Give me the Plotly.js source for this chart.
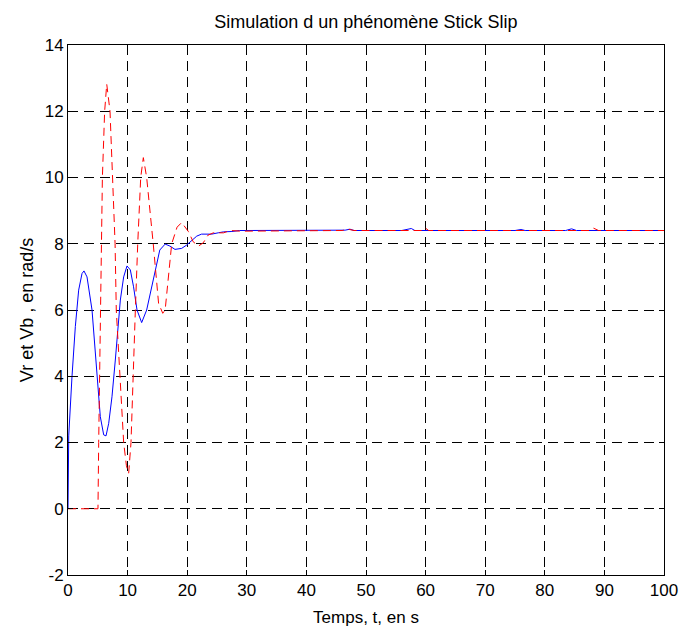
<!DOCTYPE html>
<html>
<head>
<meta charset="utf-8">
<script src="https://cdn.plot.ly/plotly-3.0.1.min.js"></script>
<style>html,body{margin:0;padding:0;background:#fff;}#chart{width:680px;height:630px;}</style>
</head>
<body>
<div id="chart"></div>
<script>
const blueT = [0, 0.05, 0.12, 0.67, 1.23, 1.79, 2.35, 2.68, 3.19, 4.03, 4.58, 4.86, 5.03, 5.42, 5.99, 6.38, 6.83, 7.38, 7.94, 8.5, 8.78, 9.34, 9.9, 10.46, 11.0, 11.58, 12.36, 13.2, 14.6, 15.4, 16.3, 17.1, 17.95, 19.07, 19.9, 20.75, 21.6, 22.4, 24.1, 25.2, 26.1, 27.5, 28.8, 30, 45, 46.5, 47.3, 48, 56, 57, 57.6, 58.2, 75, 76, 76.7, 83.5, 84.5, 85.3, 100];
const blueV = [0, 1.2, 2.2, 3.99, 5.5, 6.6, 7.1, 7.18, 7.0, 6.0, 4.79, 4.2, 3.58, 2.78, 2.23, 2.2, 2.58, 3.38, 4.49, 5.7, 6.3, 7.0, 7.33, 7.21, 6.7, 6.0, 5.62, 6.0, 7.1, 7.81, 7.99, 7.93, 7.83, 7.86, 7.96, 8.11, 8.23, 8.29, 8.29, 8.33, 8.36, 8.37, 8.4, 8.4, 8.4, 8.41, 8.44, 8.4, 8.4, 8.43, 8.46, 8.4, 8.4, 8.43, 8.4, 8.4, 8.45, 8.4, 8.4];
const redT = [0, 5.03, 5.15, 5.3, 5.45, 5.54, 5.77, 6.15, 6.5, 7.05, 7.5, 7.9, 8.1, 8.67, 9.34, 9.8, 10.18, 10.57, 10.9, 11.3, 11.7, 12.2, 12.64, 13.2, 14.3, 15.2, 15.9, 16.3, 17.4, 18.3, 19.07, 20.2, 21.0, 21.9, 22.7, 23.5, 24.4, 26.1, 27.2, 29, 46, 47, 48, 59.5, 60, 60.5, 87.5, 88.2, 89, 100];
const redV = [0, 0, 2, 4, 6, 8, 10, 12, 12.82, 12, 10, 8, 6, 4, 2, 1.3, 1.07, 2, 4, 6, 8, 10, 10.6, 10, 8, 6.2, 5.9, 6, 8, 8.5, 8.64, 8.37, 8.06, 7.93, 8.03, 8.26, 8.33, 8.33, 8.4, 8.38, 8.4, 8.44, 8.4, 8.4, 8.47, 8.4, 8.4, 8.47, 8.4, 8.4];
const xTicks = [0, 10, 20, 30, 40, 50, 60, 70, 80, 90, 100];
const yTicks = [-2, 0, 2, 4, 6, 8, 10, 12, 14];

const FONT = 'Liberation Sans, Arial, sans-serif';
const traces = [
  {x: blueT, y: blueV, type: 'scatter', mode: 'lines', line: {color: '#0000ff', width: 1}, hoverinfo: 'skip'},
  {x: redT, y: redV, type: 'scatter', mode: 'lines', line: {color: '#ff0000', width: 1, dash: '8px,5px'}, hoverinfo: 'skip'}
];
const axisCommon = {
  showline: true, linecolor: '#000', linewidth: 1, mirror: 'ticks',
  ticks: 'inside', ticklen: 5, tickcolor: '#000',
  showgrid: true, gridcolor: '#000', griddash: '10px,6px', gridwidth: 1,
  zeroline: false,
  tickfont: {family: FONT, size: 17, color: '#000'}
};
const layout = {
  width: 680, height: 630,
  margin: {l: 68, r: 16, t: 45, b: 55},
  paper_bgcolor: '#fff', plot_bgcolor: '#fff',
  showlegend: false,
  title: {text: 'Simulation d un phénomène Stick Slip', x: 0.538, xanchor: 'center', y: 0.965, yanchor: 'middle',
          font: {family: FONT, size: 18, color: '#000'}},
  xaxis: Object.assign({}, axisCommon, {
    range: [0, 100], tickvals: xTicks, ticktext: xTicks.map(String),
    title: {text: 'Temps, t, en s', standoff: 11, font: {family: FONT, size: 17, color: '#000'}}
  }),
  yaxis: Object.assign({}, axisCommon, {
    range: [-2, 14], tickvals: yTicks, ticktext: yTicks.map(String),
    title: {text: 'Vr et Vb , en rad/s', standoff: 6, font: {family: FONT, size: 18, color: '#000'}}
  })
};
Plotly.newPlot('chart', traces, layout, {displayModeBar: false, staticPlot: true});
</script>
</body>
</html>
